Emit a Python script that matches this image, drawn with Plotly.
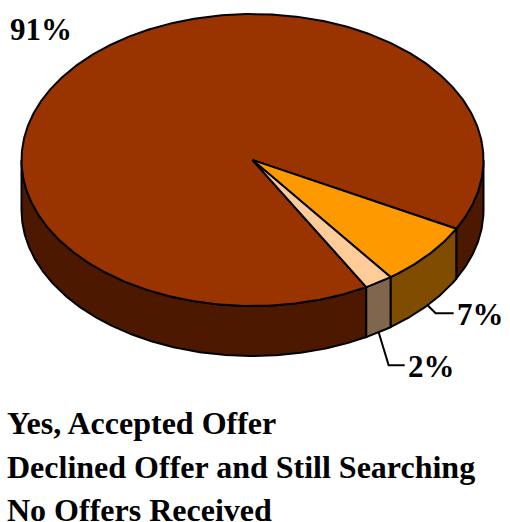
import numpy as np
import plotly.graph_objects as go

# Survey result shares
categories = ["Yes, Accepted Offer", "Declined Offer and Still Searching", "No Offers Received"]
values = [91, 7, 2]
labels = ["91%", "7%", "2%"]

top_colors = ["#993300", "#FF9900", "#FFCC99"]
side_colors = ["#4C1900", "#7F4C00", "#7F664C"]

# Projected pie geometry (pixel space, y grows downward)
CX, CY = 252.5, 160.0
RX, RY = 231.0, 146.0
DEPTH = 50.0
START = 60.5  # degrees, clockwise from 3 o'clock on screen

LABEL_FONT = dict(family="Liberation Serif", size=31, color="black", weight="bold")
LIST_FONT = dict(family="Liberation Serif", size=32, color="black", weight="bold")


def top_pt(a):
    r = np.radians(a)
    return CX + RX * np.cos(r), CY + RY * np.sin(r)


def bot_pt(a):
    x, y = top_pt(a)
    return x, y + DEPTH


fig = go.Figure()

total = float(sum(values))
bounds = []
a = START
for v in values:
    span = 360.0 * v / total
    bounds.append((a, a + span))
    a += span

# Side walls: only the front half (screen angles 0..180) is visible
for (a0, a1), col in zip(bounds, side_colors):
    for shift in (0.0, -360.0):
        lo = max(a0 + shift, 0.0)
        hi = min(a1 + shift, 180.0)
        if hi <= lo:
            continue
        ang = np.linspace(lo, hi, max(int((hi - lo) * 2), 2))
        tx, ty = top_pt(ang)
        bx, by = bot_pt(ang[::-1])
        xs = np.concatenate([tx, bx, tx[:1]])
        ys = np.concatenate([ty, by, ty[:1]])
        fig.add_trace(go.Scatter(x=xs, y=ys, mode="lines", fill="toself",
                                 fillcolor=col, line=dict(color="black", width=2),
                                 hoverinfo="skip"))

# Top faces
for (a0, a1), col, name in zip(bounds, top_colors, categories):
    ang = np.linspace(a0, a1, max(int((a1 - a0) * 2), 2))
    tx, ty = top_pt(ang)
    xs = np.concatenate([[CX], tx, [CX]])
    ys = np.concatenate([[CY], ty, [CY]])
    fig.add_trace(go.Scatter(x=xs, y=ys, mode="lines", fill="toself",
                             fillcolor=col, line=dict(color="black", width=2),
                             name=name, hoverinfo="name"))

# Percentage labels
mids = [(a0 + a1) / 2 for a0, a1 in bounds]

# Largest slice: label placed outside the rim, no leader
r = np.radians(mids[0])
fig.add_annotation(x=CX + 1.28 * RX * np.cos(r), y=CY + 1.28 * RY * np.sin(r),
                   text=labels[0], showarrow=False, font=LABEL_FONT,
                   xanchor="center", yanchor="middle")

# Small slices: leader lines from the bottom rim
leader_offsets = [(8, 8, 18), (10, 33, 16)]
for lab, m, (dx, dy, run) in zip(labels[1:], mids[1:], leader_offsets):
    sx, sy = bot_pt(m)
    ex, ey = sx + dx, sy + dy
    fig.add_trace(go.Scatter(x=[sx, ex, ex + run], y=[sy, ey, ey], mode="lines",
                             line=dict(color="black", width=2), hoverinfo="skip"))
    fig.add_annotation(x=ex + run + 1, y=ey + 1, text=lab,
                       showarrow=False, font=LABEL_FONT, xanchor="left", yanchor="middle")

# Category list below the pie
for i, name in enumerate(categories):
    fig.add_annotation(x=5, y=423 + 43.5 * i, text=name, showarrow=False,
                       font=LIST_FONT, xanchor="left", yanchor="middle")

fig.update_layout(
    width=510, height=522,
    margin=dict(l=0, r=0, t=0, b=0),
    paper_bgcolor="white", plot_bgcolor="white",
    showlegend=False,
    xaxis=dict(range=[0, 510], visible=False, fixedrange=True),
    yaxis=dict(range=[522, 0], visible=False, fixedrange=True),
)

fig.write_html("out.html")
